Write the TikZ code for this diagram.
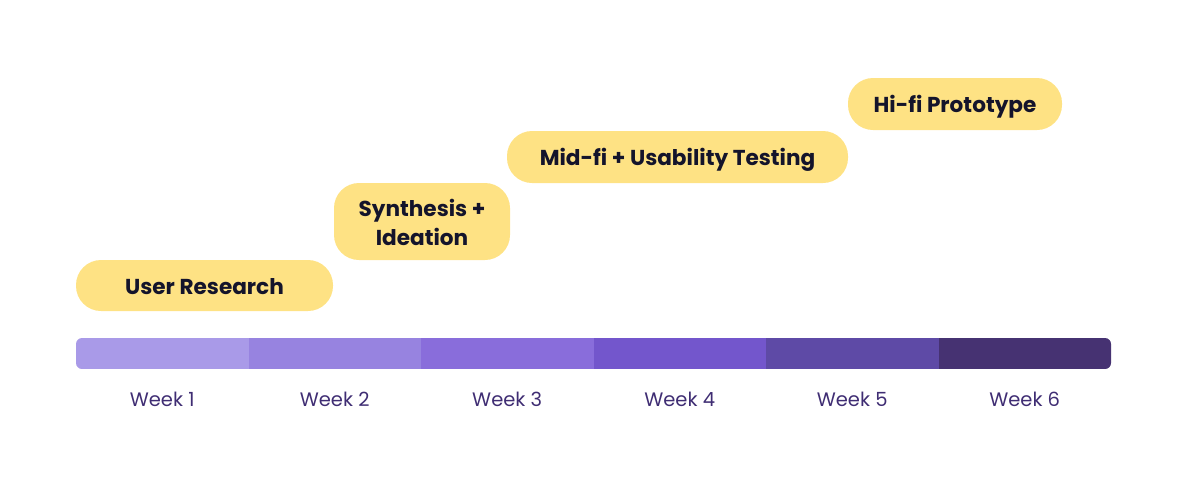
\documentclass[tikz,border=0pt]{standalone}
\usepackage{fontspec}
\setmainfont{Poppins}
\definecolor{boxfill}{HTML}{FEE284}
\definecolor{txt}{HTML}{14142B}
\definecolor{wk}{HTML}{3F2D73}
\definecolor{sA}{HTML}{A99AE8}
\definecolor{sB}{HTML}{9783E0}
\definecolor{sC}{HTML}{896DDB}
\definecolor{sD}{HTML}{7356CC}
\definecolor{sE}{HTML}{5E4AA6}
\definecolor{sF}{HTML}{463272}
\newcommand{\capbox}[1]{\raisebox{0pt}[17pt][0pt]{#1}}
\begin{document}
\begin{tikzpicture}[x=1pt,y=-1pt,
  phase/.style={fill=boxfill,rounded corners=25pt,inner sep=0pt,align=center,
    text=txt,font=\fontsize{21.6}{29}\selectfont\bfseries},
  seg/.style={inner sep=0pt,minimum width=174pt,minimum height=31pt,anchor=west},
  weeklabel/.style={text=wk,font=\fontsize{19.5}{22}\selectfont,anchor=center}]
\useasboundingbox (0,0) rectangle (1200,485);
% phases
\node[phase,minimum width=257pt,minimum height=51pt] (p1) at (204.5,285.5) {\capbox{User Research}};
\node[phase,minimum width=176pt,minimum height=77pt] (p2) at (422,221.5) {\raisebox{0pt}[48pt][0pt]{\shortstack{Synthesis +\\[3pt]Ideation}}};
\node[phase,minimum width=341pt,minimum height=52pt] (p3) at (677.5,157) {\capbox{Mid-fi + Usability Testing}};
\node[phase,minimum width=214pt,minimum height=52pt] (p4) at (955,104) {\capbox{Hi-fi Prototype}};
% bar
\begin{scope}
\clip[rounded corners=6pt] (76,338) rectangle (1111,369);
\node[seg,fill=sA] (s1) at (76,353.5) {};
\node[seg,fill=sB] (s2) at (248.5,353.5) {};
\node[seg,fill=sC] (s3) at (421,353.5) {};
\node[seg,fill=sD] (s4) at (593.5,353.5) {};
\node[seg,fill=sE] (s5) at (766,353.5) {};
\node[seg,fill=sF] (s6) at (938.5,353.5) {};
\end{scope}
\foreach \i in {1,...,6}{
  \node[weeklabel] (w\i) at ([xshift=-1pt,yshift=-30pt]s\i.south) {Week \i};
}
\end{tikzpicture}
\end{document}
